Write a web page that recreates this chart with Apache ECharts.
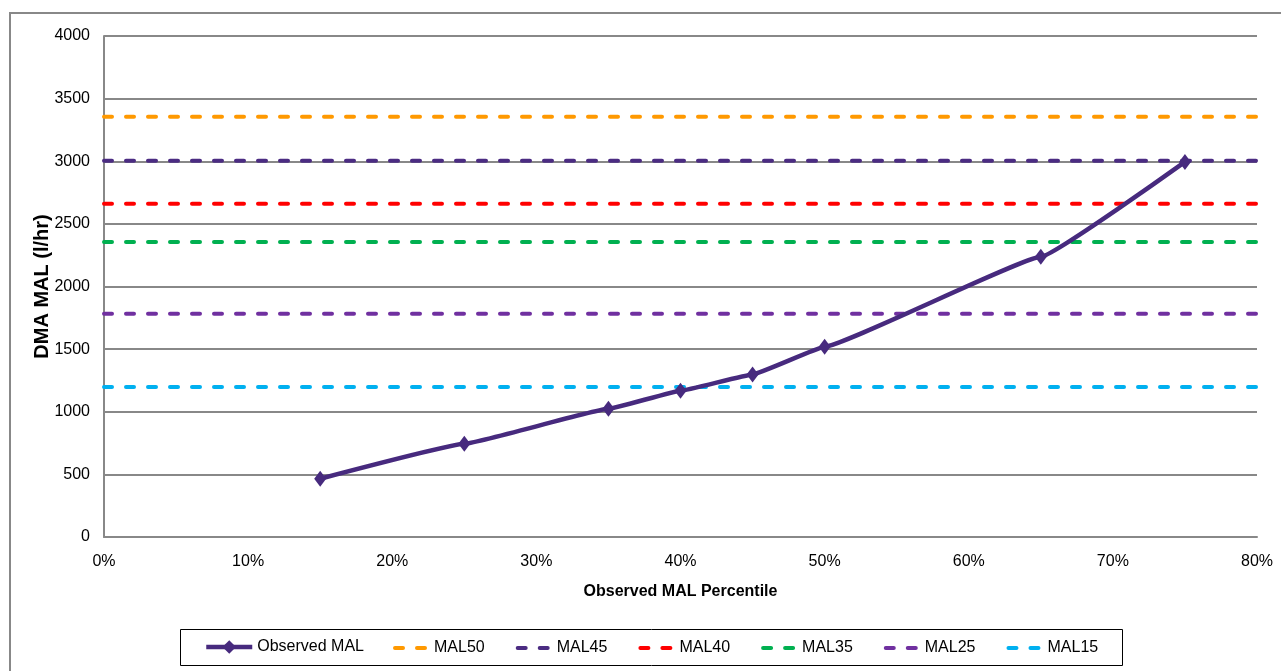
<!DOCTYPE html>
<html>
<head>
<meta charset="utf-8">
<script src="https://cdn.jsdelivr.net/npm/echarts@6/dist/echarts.min.js"></script>
<style>
html,body{margin:0;padding:0;background:#fff;}
#chart{width:1281px;height:671px;}
</style>
</head>
<body>
<div id="chart"></div>
<script>
// ---- data ----
const percentiles = [15, 25, 35, 40, 45, 50, 65, 75];
const observedMAL = [465, 744, 1023, 1168, 1298, 1519, 2237, 2995];
const malNames = ['MAL50', 'MAL45', 'MAL40', 'MAL35', 'MAL25', 'MAL15'];
const malValues = [3355, 3003, 2660, 2355, 1782, 1198];
const xRange = [0, 80];
const yRange = [0, 4000];

// ---- styles ----
const malColors = ['#FF9900', '#4B2C82', '#FF0000', '#00B050', '#7030A0', '#00B0F0'];
const obsColor = '#472A7E';
const font = 'Arial, "Liberation Sans", sans-serif';

const chart = echarts.init(document.getElementById('chart'));

const series = [{
  name: 'Observed MAL',
  type: 'line',
  data: percentiles.map((p, i) => [p, observedMAL[i]]),
  smooth: 0.08,
  smoothMonotone: 'x',
  symbol: 'diamond',
  symbolSize: [12, 16],
  lineStyle: { color: obsColor, width: 4.5 },
  itemStyle: { color: obsColor },
  z: 3
}];
malNames.forEach((n, i) => {
  series.push({
    name: n,
    type: 'line',
    data: [[xRange[0], malValues[i]], [xRange[1], malValues[i]]],
    symbol: 'none',
    lineStyle: { color: malColors[i], width: 4, type: [8, 14], cap: 'round' },
    itemStyle: { color: malColors[i] },
    z: 2
  });
});

chart.setOption({
  animation: false,
  backgroundColor: '#fff',
  textStyle: { fontFamily: font },
  grid: { left: 104, right: 24, top: 36, bottom: 134 },
  graphic: [
    { type: 'rect', shape: { x: 10, y: 13, width: 1400, height: 800 },
      style: { fill: 'none', stroke: '#888', lineWidth: 2 }, silent: true },
    { type: 'rect', shape: { x: 180.5, y: 629.5, width: 942, height: 36 },
      style: { fill: 'none', stroke: '#000', lineWidth: 1 }, silent: true }
  ],
  legend: [{
    data: ['Observed MAL'],
    left: 199, top: 634,
    itemWidth: 46, itemHeight: 17,
    lineStyle: { width: 4.5 },
    textStyle: { fontFamily: font, fontSize: 16, color: '#000' }
  }, {
    data: malNames.map(n => ({ name: n, itemStyle: { opacity: 0 } })),
    left: 388, top: 635,
    itemWidth: 34, itemHeight: 14, itemGap: 31,
    lineStyle: { width: 4 },
    textStyle: { fontFamily: font, fontSize: 16, color: '#000' }
  }],
  xAxis: {
    type: 'value',
    min: xRange[0], max: xRange[1], interval: 10,
    name: 'Observed MAL Percentile',
    nameLocation: 'middle', nameGap: 47,
    nameTextStyle: { fontFamily: font, fontSize: 16, fontWeight: 'bold', color: '#000' },
    axisLine: { show: true, lineStyle: { color: '#888', width: 2 } },
    axisTick: { show: false },
    splitLine: { show: false },
    axisLabel: { formatter: '{value}%', fontFamily: font, fontSize: 16, color: '#000', margin: 17 }
  },
  yAxis: {
    type: 'value',
    min: yRange[0], max: yRange[1], interval: 500,
    name: 'DMA MAL (l/hr)',
    nameLocation: 'middle', nameGap: 52, nameRotate: 90,
    nameMoveOverlap: false,
    nameTextStyle: { fontFamily: font, fontSize: 20, fontWeight: 'bold', color: '#000' },
    axisLine: { show: true, lineStyle: { color: '#888', width: 2 } },
    axisTick: { show: false },
    splitLine: { show: true, lineStyle: { color: '#888', width: 2 } },
    axisLabel: { formatter: v => String(v), fontFamily: font, fontSize: 16, color: '#000', margin: 14 }
  },
  series: series
});
</script>
</body>
</html>
